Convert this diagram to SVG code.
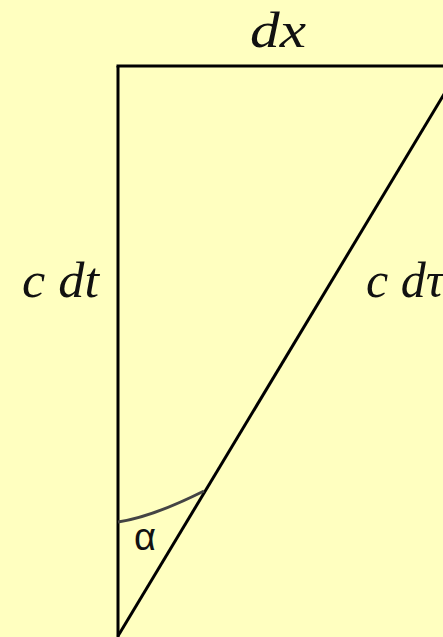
<svg xmlns="http://www.w3.org/2000/svg" width="443" height="637" viewBox="0 0 443 637">
<style>
.lbl{font-family:"Liberation Serif","DejaVu Serif",serif;font-style:italic;font-size:50px;fill:#111}
.ln{stroke:#000;stroke-width:3;fill:none;stroke-linecap:butt}
</style>
<rect width="443" height="637" fill="#FFFFC0"/>
<g id="connectors">
<line class="ln" x1="118" y1="66" x2="118" y2="637"/>
<line class="ln" x1="116.5" y1="66" x2="461" y2="66"/>
<line class="ln" x1="118" y1="636" x2="461" y2="66"/>
<path d="M118,522 Q152,517 204,491" stroke="#444" stroke-width="3" fill="none"/>
</g>
<g id="label-dx"><text class="lbl" x="250" y="47" textLength="56" lengthAdjust="spacingAndGlyphs">dx</text></g>
<g id="label-cdt"><text class="lbl" x="22" y="297" textLength="77" lengthAdjust="spacingAndGlyphs">c dt</text></g>
<g id="label-cdtau"><text class="lbl" x="366" y="297">c dτ</text></g>
<g id="label-alpha"><text x="134" y="550" font-family="Liberation Sans, Arial, sans-serif" font-size="38" fill="#111">α</text></g>
</svg>
